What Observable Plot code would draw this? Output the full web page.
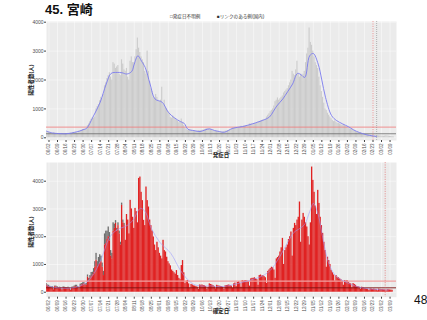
<!DOCTYPE html>
<html><head><meta charset="utf-8">
<script src="https://cdn.jsdelivr.net/npm/d3@7"></script>
<script src="https://cdn.jsdelivr.net/npm/@observablehq/plot@0.6"></script>
<style>
body{margin:0;background:#fff;width:427px;height:320px;overflow:hidden;font-family:"Liberation Sans","Noto Sans CJK JP",sans-serif;}
#wrap{position:relative;width:427px;height:320px;}
.abs{position:absolute;white-space:nowrap;line-height:1;}
</style></head><body><div id="wrap"></div>
<script>
// ---- data ----
const firstDay = "2022-05-31";
const weekTicks = ["2022-06-02","2022-06-09","2022-06-16","2022-06-23","2022-06-30","2022-07-07","2022-07-14","2022-07-21","2022-07-28","2022-08-04","2022-08-11","2022-08-18","2022-08-25","2022-09-01","2022-09-08","2022-09-15","2022-09-22","2022-09-29","2022-10-06","2022-10-13","2022-10-20","2022-10-27","2022-11-03","2022-11-10","2022-11-17","2022-11-24","2022-12-01","2022-12-08","2022-12-15","2022-12-22","2022-12-29","2023-01-05","2023-01-12","2023-01-19","2023-01-26","2023-02-02","2023-02-09","2023-02-16","2023-02-23","2023-03-02","2023-03-09"];
const yTicks = [0, 1000, 2000, 3000, 4000];

// daily counts by onset date (top panel), from 2022-05-31
const onsetCounts = [
230, 210,
190, 180, 150, 140, 170, 160, 150,
150, 140, 120, 110, 150, 140, 130,
140, 130, 110, 120, 160, 150, 170,
180, 190, 170, 160, 230, 240, 260,
290, 300, 280, 310, 420, 480, 560,
640, 700, 680, 720, 1000, 1080, 1150,
1280, 1400, 1350, 1500, 1800, 1900, 2050,
2150, 2250, 2100, 2000, 2600, 2550, 2400,
2450, 2500, 2200, 2150, 2700, 2550, 2350,
2300, 2400, 2100, 2000, 2650, 2800, 2600,
2600, 2800, 3050, 3450, 3100, 2950, 2800,
2700, 2600, 2300, 2200, 3000, 2300, 1950,
1700, 1600, 1400, 1350, 1500, 1400, 1300,
1250, 1300, 1750, 1150, 1300, 1050, 1000,
900, 850, 700, 680, 750, 700, 650,
600, 580, 520, 550, 650, 520, 420,
350, 300, 260, 250, 280, 260, 240,
240, 230, 220, 230, 250, 240, 250,
260, 270, 280, 300, 320, 320, 300,
290, 270, 250, 230, 240, 220, 210,
210, 200, 190, 200, 220, 230, 240,
250, 260, 270, 300, 340, 330, 350,
360, 350, 340, 360, 400, 390, 400,
400, 410, 420, 430, 480, 470, 480,
480, 500, 490, 520, 560, 550, 580,
600, 620, 610, 640, 720, 780, 830,
900, 950, 1000, 1100, 1250, 1300, 1380,
1300, 1350, 1400, 1450, 1550, 1600, 1650,
1700, 1800, 1900, 2000, 2300, 2200, 2150,
2350, 2650, 2200, 2100, 2200, 2150, 2200,
2300, 2600, 2900, 3100, 3800, 3300, 3200,
3000, 2800, 2600, 2500, 2400, 2100, 1800,
1600, 1400, 1200, 1000, 950, 850, 780,
720, 660, 600, 560, 580, 540, 500,
500, 480, 450, 430, 460, 420, 390,
370, 340, 310, 290, 300, 270, 240,
220, 200, 180, 160, 170, 150, 130,
120, 110, 100, 95, 100, 90, 80,
75, 70, 65, 60, 70, 65, 60,
60, 55, 50, 60, 70, 60, 55,
50, 45, 40, 35
];

// daily counts by confirmation date (bottom panel, red), from 2022-05-31
const confirmedCounts = [
250, 220,
200, 180, 170, 160, 80, 200, 190,
170, 150, 160, 140, 70, 170, 160,
150, 140, 150, 130, 60, 150, 170,
180, 200, 190, 170, 90, 230, 260,
280, 300, 260, 250, 540, 420, 500,
560, 620, 700, 900, 1150, 900, 1000,
1050, 1100, 900, 600, 1700, 1750, 1900,
2000, 1850, 1300, 1200, 2200, 2300, 2480,
2200, 2400, 2100, 1700, 3130, 2500, 2400,
1870, 2800, 2600, 2100, 3310, 3000, 2700,
2300, 3020, 2900, 2500, 4100, 4150, 3600,
3300, 2590, 2400, 3790, 3300, 3070, 2600,
2400, 2200, 1990, 1700, 1500, 1800, 1600,
1400, 1300, 1200, 1870, 1500, 1450, 1260,
1100, 1020, 950, 800, 750, 700, 650,
780, 600, 500, 450, 960, 1140, 700,
310, 400, 420, 300, 150, 280, 260,
230, 220, 200, 180, 100, 260, 250,
260, 240, 230, 200, 100, 180, 300,
280, 260, 240, 200, 120, 250, 230,
220, 210, 200, 180, 100, 230, 240,
250, 260, 240, 220, 150, 300, 330,
200, 350, 380, 330, 180, 420, 400,
410, 420, 400, 380, 220, 480, 500,
500, 520, 480, 450, 250, 600, 620,
580, 600, 560, 520, 320, 750, 800,
850, 900, 880, 800, 500, 1200, 1250,
1300, 1450, 1600, 1940, 1000, 1500, 1600,
1700, 1900, 2000, 2170, 1300, 2300, 2480,
2400, 2600, 2700, 3250, 1800, 2600, 2840,
2700, 2500, 2350, 2000, 1700, 2500, 4510,
4030, 3600, 3100, 2800, 3670, 3200, 2700,
2400, 2120, 1800, 1500, 900, 1260, 1140,
1000, 780, 700, 620, 400, 600, 540,
520, 480, 450, 400, 250, 420, 400,
420, 360, 320, 300, 150, 310, 280,
250, 200, 200, 180, 100, 180, 170,
140, 130, 120, 110, 60, 120, 110,
100, 110, 100, 90, 50, 110, 100,
95, 90, 85, 80, 45, 90, 85,
80, 75, 70
];

// extra (dark grey) part stacked on the red bars, from 2022-05-31
const confirmedExtra = [
60, 40,
50, 30, 20, 40, 30, 20, 30,
30, 20, 20, 30, 20, 20, 20,
20, 20, 30, 20, 20, 30, 20,
40, 50, 60, 30, 30, 60, 50,
60, 50, 40, 60, 80, 80, 100,
150, 100, 150, 200, 250, 200, 250,
300, 200, 150, 150, 400, 450, 300,
350, 300, 200, 200, 300, 150, 100,
100, 100, 100, 100, 80, 100, 80
];

// smoothed trend (blue line), top panel
const trendTopDates = ["2022-05-31","2022-06-05","2022-06-09","2022-06-13","2022-06-16","2022-06-20","2022-06-23","2022-06-27","2022-06-30","2022-07-03","2022-07-08","2022-07-14","2022-07-19","2022-07-23","2022-07-28","2022-08-01","2022-08-05","2022-08-09","2022-08-11","2022-08-14","2022-08-17","2022-08-20","2022-08-24","2022-08-28","2022-09-03","2022-09-08","2022-09-13","2022-09-18","2022-09-21","2022-09-24","2022-09-29","2022-10-04","2022-10-08","2022-10-12","2022-10-16","2022-10-20","2022-10-24","2022-10-31","2022-11-08","2022-11-16","2022-11-24","2022-11-30","2022-12-03","2022-12-06","2022-12-11","2022-12-15","2022-12-19","2022-12-23","2022-12-26","2022-12-29","2023-01-02","2023-01-05","2023-01-09","2023-01-12","2023-01-15","2023-01-20","2023-01-24","2023-01-29","2023-02-03","2023-02-07","2023-02-12","2023-02-18","2023-02-22","2023-02-26"];
const trendTopValues = [230, 165, 150, 140, 140, 160, 190, 230, 280, 333, 711, 1228, 1862, 2228, 2262, 2250, 2207, 2300, 2552, 2838, 2650, 2434, 1862, 1345, 1228, 883, 690, 560, 500, 300, 250, 217, 270, 310, 250, 217, 193, 331, 390, 483, 597, 720, 900, 1100, 1345, 1600, 1862, 2228, 2180, 2090, 2838, 2917, 2552, 2000, 1403, 769, 600, 483, 380, 276, 180, 103, 70, 45];

// smoothed trend (blue line), bottom panel
const trendBottomDates = ["2022-05-31","2022-06-09","2022-06-16","2022-06-23","2022-06-30","2022-07-07","2022-07-14","2022-07-22","2022-07-28","2022-08-05","2022-08-10","2022-08-16","2022-08-20","2022-08-25","2022-09-01","2022-09-10","2022-09-18","2022-09-24","2022-09-29","2022-10-06","2022-10-13","2022-10-20","2022-10-27","2022-11-03","2022-11-10","2022-11-17","2022-11-24","2022-12-01","2022-12-08","2022-12-15","2022-12-20","2022-12-25","2022-12-29","2023-01-02","2023-01-05","2023-01-09","2023-01-13","2023-01-18","2023-01-24","2023-02-01","2023-02-08","2023-02-15","2023-02-22","2023-03-01","2023-03-08"];
const trendBottomValues = [230, 160, 140, 170, 270, 550, 1100, 1990, 2250, 2400, 2600, 3020, 2900, 2300, 1800, 1400, 780, 450, 280, 220, 230, 200, 230, 300, 380, 470, 580, 800, 1250, 1800, 2150, 2300, 2450, 2900, 3200, 2800, 1900, 1000, 560, 360, 230, 150, 110, 90, 80];

// reference lines
const topUpperLevel = 370, topLowerLevel = 140;
const bottomUpperLevel = 400, bottomLowerLevel = 158;
const topCutoffDates = ["2023-02-23"];
const topCutoffDates2 = ["2023-02-26"];
const bottomCutoffDates = ["2023-03-05"];

// ---- build ----
const DAY = 864e5;
const toDate = s => new Date(s + "T00:00:00Z");
const t0 = +toDate(firstDay);
const dayAt = (i, off = 0) => new Date(t0 + (i + off) * DAY);
const topData = onsetCounts.map((v, i) => ({x1: dayAt(i, -0.5), x2: dayAt(i, 0.5), v}));
const bottomData = confirmedCounts.map((v, i) => ({x1: dayAt(i, -0.5), x2: dayAt(i, 0.58), v, top: v + (confirmedExtra[i] ?? 0)}));
const tickDates = weekTicks.map(toDate);
const trendTop = trendTopDates.map((d, i) => ({date: toDate(d), v: trendTopValues[i]}));
const trendBottom = trendBottomDates.map((d, i) => ({date: toDate(d), v: trendBottomValues[i]}));
const xDomain = [new Date("2022-05-30T23:00:00Z"), new Date("2023-03-14T07:00:00Z")];
const fam = '"Liberation Sans","Noto Sans CJK JP",sans-serif';

function axes() {
  return [
    Plot.axisX(tickDates, {tickRotate: -90, tickFormat: d3.utcFormat("%m/%d"), tickSize: 2, tickPadding: 1, fontSize: 4.5, fill: "#4d4d4d", stroke: "#444", label: null}),
    Plot.axisY(yTicks, {tickSize: 2, tickPadding: 1, fontSize: 5, fill: "#4d4d4d", stroke: "#444", tickFormat: d3.format("d"), label: null})
  ];
}

const topPlot = Plot.plot({
  width: 427, height: 160, marginLeft: 46, marginRight: 31, marginTop: 21, marginBottom: 20,
  style: {fontFamily: fam, background: "transparent", overflow: "visible"},
  x: {type: "utc", domain: xDomain},
  y: {domain: [-93, 4024]},
  marks: [
    Plot.frame({fill: "#ebebeb", stroke: null}),
    Plot.gridX(tickDates, {stroke: "#fff", strokeOpacity: 0.9, strokeWidth: 0.5}),
    Plot.gridY(yTicks, {stroke: "#fff", strokeOpacity: 0.9, strokeWidth: 0.5}),
    Plot.rectY(topData, {x1: "x1", x2: "x2", y: "v", fill: "#cbcbcb", insetRight: 0.1, clip: true}),
    Plot.ruleY([topUpperLevel], {stroke: "#f07878", strokeWidth: 0.8}),
    Plot.ruleY([topLowerLevel], {stroke: "#6a6a6a", strokeWidth: 0.8}),
    Plot.line(trendTop, {x: "date", y: "v", stroke: "#7a7aee", strokeWidth: 0.9, curve: "catmull-rom"}),
    Plot.ruleX(topCutoffDates.map(toDate), {stroke: "#e06060", strokeWidth: 0.6, strokeDasharray: "1.2,1.2"}),
    Plot.ruleX(topCutoffDates2.map(toDate), {stroke: "#888", strokeWidth: 0.6, strokeDasharray: "1,1"}),
    ...axes()
  ]
});

const bottomPlot = Plot.plot({
  width: 427, height: 160, marginLeft: 46, marginRight: 31, marginTop: 2, marginBottom: 23.3,
  style: {fontFamily: fam, background: "transparent", overflow: "visible"},
  x: {type: "utc", domain: xDomain},
  y: {domain: [-180, 4674]},
  marks: [
    Plot.frame({fill: "#ebebeb", stroke: null}),
    Plot.gridX(tickDates, {stroke: "#fff", strokeOpacity: 0.9, strokeWidth: 0.5}),
    Plot.gridY(yTicks, {stroke: "#fff", strokeOpacity: 0.9, strokeWidth: 0.5}),
    Plot.rectY(bottomData, {x1: "x1", x2: "x2", y1: "v", y2: "top", fill: "#6e6e6e", clip: true}),
    Plot.rectY(bottomData, {x1: "x1", x2: "x2", y: "v", fill: "#e02222", clip: true}),
    Plot.ruleY([bottomUpperLevel], {stroke: "#f2a0a0", strokeWidth: 1.4}),
    Plot.ruleY([bottomLowerLevel], {stroke: "#7a1010", strokeWidth: 0.9}),
    Plot.line(trendBottom, {x: "date", y: "v", stroke: "#9a9aff", strokeOpacity: 0.7, strokeWidth: 0.8, curve: "catmull-rom"}),
    Plot.ruleX(bottomCutoffDates.map(toDate), {stroke: "#e06060", strokeWidth: 0.6, strokeDasharray: "1.2,1.2"}),
    ...axes()
  ]
});

const wrap = document.getElementById("wrap");
topPlot.style.position = "absolute"; topPlot.style.left = "0px"; topPlot.style.top = "0px";
bottomPlot.style.position = "absolute"; bottomPlot.style.left = "0px"; bottomPlot.style.top = "160px";
wrap.append(topPlot, bottomPlot);

function label(text, css) {
  const d = document.createElement("div");
  d.className = "abs"; d.textContent = text; Object.assign(d.style, css); wrap.append(d); return d;
}
label("45. 宮崎", {left: "45px", top: "3px", fontSize: "13px", fontWeight: "bold", color: "#111"});
label("□発症日不明例", {left: "170px", top: "15px", fontSize: "4.6px", color: "#333"});
label("■リンクのある例(国内)", {left: "217px", top: "15px", fontSize: "4.6px", color: "#333"});
label("発症日", {left: "221px", top: "153px", fontSize: "5.5px", fontWeight: "bold", color: "#222", transform: "translateX(-50%)"});
label("確定日", {left: "221px", top: "309px", fontSize: "5.5px", fontWeight: "bold", color: "#222", transform: "translateX(-50%)"});
label("陽性者数(人)", {left: "32px", top: "80px", fontSize: "5.5px", fontWeight: "bold", color: "#222", transform: "translate(-50%,-50%) rotate(-90deg)"});
label("陽性者数(人)", {left: "32px", top: "232px", fontSize: "5.5px", fontWeight: "bold", color: "#222", transform: "translate(-50%,-50%) rotate(-90deg)"});
label("48", {left: "414px", top: "294px", fontSize: "12px", color: "#111"});
</script></body></html>
